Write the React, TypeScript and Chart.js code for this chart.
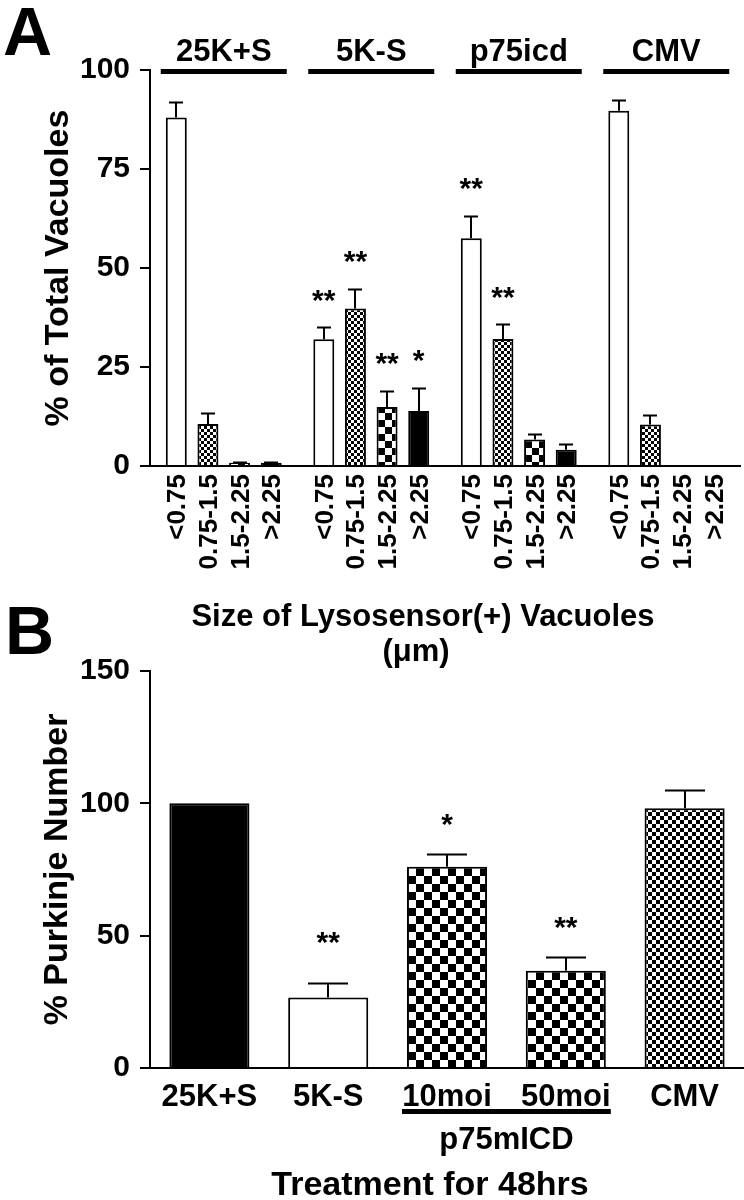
import React, { useEffect, useRef } from 'react';
import { Chart, registerables } from 'chart.js';
Chart.register(...registerables);

const FONT = '"Liberation Sans", Arial, Helvetica, sans-serif';

// ---------- Panel A data ----------
const groupsA = ['25K+S', '5K-S', 'p75icd', 'CMV'];
const sizeClasses = ['<0.75', '0.75-1.5', '1.5-2.25', '>2.25'];
const valsLt075 = [88, 32, 57.5, 89.7];
const errLt075 = [4, 3, 5.6, 2.6];
const vals075to15 = [10.6, 39.8, 32.1, 10.5];
const err075to15 = [2.8, 4.9, 3.7, 2.5];
const vals15to225 = [0.8, 14.9, 6.7, 0];
const err15to225 = [0.3, 4.1, 1.5, 0];
const valsGt225 = [0.8, 13.9, 4.1, 0];
const errGt225 = [0.3, 5.9, 1.4, 0];
const sigLt075 = ['', '**', '**', ''];
const sigLt075Y = [null, 43.7, 72, null];
const sig075to15 = ['', '**', '**', ''];
const sig075to15Y = [null, 53.6, 44.4, null];
const sig15to225 = ['', '**', '', ''];
const sig15to225Y = [null, 27.8, null, null];
const sigGt225 = ['', '*', '', ''];
const sigGt225Y = [null, 28.5, null, null];
const yTicksA = [0, 25, 50, 75, 100];
const yTitleA = '% of Total Vacuoles';
const xTitleA = ['Size of Lysosensor(+) Vacuoles', '(\u03BCm)'];

// ---------- Panel B data ----------
const treatmentsB = ['25K+S', '5K-S', '10moi', '50moi', 'CMV'];
const valsB = [100, 26.6, 76, 36.7, 98.1];
const errB = [0, 5.4, 4.9, 5.1, 6.9];
const sigB = ['', '**', '*', '**', ''];
const sigBY = [null, 50.3, 95, 56, null];
const yTicksB = [0, 50, 100, 150];
const yTitleB = '% Purkinje Number';
const bracketB = 'p75mICD';
const xTitleB = 'Treatment for 48hrs';

Chart.defaults.font.family = FONT;
Chart.defaults.color = '#000';

function checker(ctx: CanvasRenderingContext2D, size: number) {
  const c = document.createElement('canvas');
  c.width = size * 2;
  c.height = size * 2;
  const g = c.getContext('2d')!;
  g.fillStyle = '#fff';
  g.fillRect(0, 0, size * 2, size * 2);
  g.fillStyle = '#000';
  g.fillRect(0, 0, size, size);
  g.fillRect(size, size, size, size);
  return ctx.createPattern(c, 'repeat')!;
}

function errorPlugin(errs: number[][], capW: number) {
  return {
    id: 'errbars',
    afterDatasetsDraw(chart: any) {
      const ctx = chart.ctx;
      const y = chart.scales.y;
      ctx.save();
      ctx.strokeStyle = '#000';
      ctx.lineWidth = 2;
      chart.data.datasets.forEach((ds: any, di: number) => {
        const meta = chart.getDatasetMeta(di);
        meta.data.forEach((el: any, i: number) => {
          const e = errs[di][i];
          if (!e) return;
          const v = ds.data[i];
          const top = y.getPixelForValue(v);
          const cap = Math.round(y.getPixelForValue(v + e)) + 0.5;
          const x = Math.round(el.x);
          ctx.beginPath();
          ctx.moveTo(x, top);
          ctx.lineTo(x, cap);
          ctx.moveTo(x - capW / 2, cap);
          ctx.lineTo(x + capW / 2, cap);
          ctx.stroke();
        });
      });
      ctx.restore();
    },
  };
}

function starPlugin(sigs: string[][], ys: (number | null)[][]) {
  return {
    id: 'stars',
    afterDatasetsDraw(chart: any) {
      const ctx = chart.ctx;
      const y = chart.scales.y;
      ctx.save();
      ctx.fillStyle = '#000';
      ctx.font = `bold 30px ${FONT}`;
      ctx.textAlign = 'center';
      ctx.textBaseline = 'alphabetic';
      sigs.forEach((row, di) => {
        const meta = chart.getDatasetMeta(di);
        row.forEach((s, i) => {
          const yv = ys[di][i];
          if (!s || yv == null) return;
          const el = meta.data[i];
          ctx.fillText(s, el.x, y.getPixelForValue(yv) + 17);
        });
      });
      ctx.restore();
    },
  };
}

function buildA(canvas: HTMLCanvasElement) {
  const ctx = canvas.getContext('2d')!;
  const fine = checker(ctx, 3);
  const coarse = checker(ctx, 7);
  const fills = ['#fff', fine, coarse, '#000'];
  const vals = [valsLt075, vals075to15, vals15to225, valsGt225];
  const errs = [errLt075, err075to15, err15to225, errGt225];
  const sigs = [sigLt075, sig075to15, sig15to225, sigGt225];
  const sigYs = [sigLt075Y, sig075to15Y, sig15to225Y, sigGt225Y];

  const decor = {
    id: 'decorA',
    afterDraw(chart: any) {
      const c = chart.ctx;
      const x = chart.scales.x;
      c.save();
      c.fillStyle = '#000';
      c.strokeStyle = '#000';
      // panel letter
      c.font = `bold 68px ${FONT}`;
      c.textAlign = 'left';
      c.textBaseline = 'alphabetic';
      c.fillText('A', 3, 55);
      // group labels with bars
      c.font = `bold 31px ${FONT}`;
      c.textAlign = 'center';
      groupsA.forEach((g, i) => {
        const cx = x.getPixelForValue(i);
        c.fillText(g, cx, 61);
        c.lineWidth = 5;
        c.beginPath();
        c.moveTo(cx - 63, 71.5);
        c.lineTo(cx + 63, 71.5);
        c.stroke();
      });
      // rotated size-class labels
      c.font = `bold 26px ${FONT}`;
      sizeClasses.forEach((lab, di) => {
        const meta = chart.getDatasetMeta(di);
        meta.data.forEach((el: any) => {
          c.save();
          c.translate(el.x, chart.chartArea.bottom + 8);
          c.rotate(-Math.PI / 2);
          c.textAlign = 'right';
          c.textBaseline = 'alphabetic';
          c.fillText(lab, 0, 9);
          c.restore();
        });
      });
      // x title
      c.font = `bold 31px ${FONT}`;
      c.textAlign = 'center';
      c.fillText(xTitleA[0], 423, 626);
      c.fillText(xTitleA[1], 416, 661);
      c.restore();
    },
  };

  return new Chart(canvas, {
    type: 'bar',
    data: {
      labels: groupsA,
      datasets: sizeClasses.map((lab, di) => ({
        label: lab,
        data: vals[di],
        backgroundColor: fills[di] as any,
        borderColor: '#000',
        borderWidth: 2,
        categoryPercentage: 0.858,
        barPercentage: 0.663,
      })),
    },
    options: {
      responsive: false,
      animation: false,
      devicePixelRatio: 1,
      layout: { padding: { top: 70, right: 4, left: 0, bottom: 0 } },
      plugins: { legend: { display: false }, tooltip: { enabled: false } },
      scales: {
        x: {
          type: 'category',
          ticks: { display: false },
          grid: { display: false },
          border: { display: true, color: '#000', width: 2 },
          afterFit: (s: any) => { s.height = 214; },
        },
        y: {
          min: 0,
          max: 100,
          afterBuildTicks: (s: any) => { s.ticks = yTicksA.map((v) => ({ value: v })); },
          ticks: { font: { size: 30, weight: 'bold' }, color: '#000', padding: 10 },
          grid: { drawOnChartArea: false, drawTicks: true, tickLength: 10, color: '#000', lineWidth: 2 },
          border: { display: true, color: '#000', width: 2 },
          title: {
            display: true,
            text: yTitleA,
            color: '#000',
            font: { size: 34, weight: 'bold' },
            padding: { top: 38, bottom: 0 },
          },
          afterFit: (s: any) => { s.width = 150; },
        },
      },
    } as any,
    plugins: [errorPlugin(errs, 14), starPlugin(sigs, sigYs), decor],
  });
}

function buildB(canvas: HTMLCanvasElement) {
  const ctx = canvas.getContext('2d')!;
  const coarse = checker(ctx, 8);
  const fine = checker(ctx, 4);
  const fills = ['#000', '#fff', coarse, coarse, fine];

  const decor = {
    id: 'decorB',
    afterDraw(chart: any) {
      const c = chart.ctx;
      c.save();
      c.fillStyle = '#000';
      c.strokeStyle = '#000';
      c.font = `bold 68px ${FONT}`;
      c.textAlign = 'left';
      c.textBaseline = 'alphabetic';
      c.fillText('B', 5, 74);
      const meta = chart.getDatasetMeta(0);
      const e2 = meta.data[2];
      const e3 = meta.data[3];
      const l = e2.x - e2.width / 2 - 5;
      const r = e3.x + e3.width / 2 + 5;
      c.lineWidth = 5;
      c.beginPath();
      c.moveTo(l, 531.5);
      c.lineTo(r, 531.5);
      c.stroke();
      c.font = `bold 31px ${FONT}`;
      c.textAlign = 'center';
      c.fillText(bracketB, (l + r) / 2, 569);
      c.font = `bold 34px ${FONT}`;
      c.fillText(xTitleB, 430, 615);
      c.restore();
    },
  };

  return new Chart(canvas, {
    type: 'bar',
    data: {
      labels: treatmentsB,
      datasets: [
        {
          label: 'Purkinje',
          data: valsB,
          backgroundColor: fills as any,
          borderColor: '#000',
          borderWidth: 2,
          categoryPercentage: 1,
          barPercentage: 0.674,
        },
      ],
    },
    options: {
      responsive: false,
      animation: false,
      devicePixelRatio: 1,
      layout: { padding: { top: 91, right: 0, left: 0, bottom: 0 } },
      plugins: { legend: { display: false }, tooltip: { enabled: false } },
      scales: {
        x: {
          type: 'category',
          ticks: { font: { size: 31, weight: 'bold' }, color: '#000', padding: 3, maxRotation: 0, autoSkip: false },
          grid: { display: false },
          border: { display: true, color: '#000', width: 2 },
          afterFit: (s: any) => { s.height = 132; },
        },
        y: {
          min: 0,
          max: 150,
          afterBuildTicks: (s: any) => { s.ticks = yTicksB.map((v) => ({ value: v })); },
          ticks: { font: { size: 30, weight: 'bold' }, color: '#000', padding: 10 },
          grid: { drawOnChartArea: false, drawTicks: true, tickLength: 10, color: '#000', lineWidth: 2 },
          border: { display: true, color: '#000', width: 2 },
          title: {
            display: true,
            text: yTitleB,
            color: '#000',
            font: { size: 34, weight: 'bold' },
            padding: { top: 37, bottom: 0 },
          },
          afterFit: (s: any) => { s.width = 150; },
        },
      },
    } as any,
    plugins: [errorPlugin([errB], 40), starPlugin([sigB], [sigBY]), decor],
  });
}

export default function App() {
  const refA = useRef<HTMLCanvasElement>(null);
  const refB = useRef<HTMLCanvasElement>(null);
  useEffect(() => {
    const a = buildA(refA.current!);
    const b = buildB(refB.current!);
    return () => {
      a.destroy();
      b.destroy();
    };
  }, []);
  return (
    <div style={{ position: 'absolute', left: 0, top: 0, width: 744, height: 1200, background: '#fff' }}>
      <canvas ref={refA} width={744} height={680} style={{ position: 'absolute', left: 0, top: 0, width: 744, height: 680 }} />
      <canvas ref={refB} width={744} height={620} style={{ position: 'absolute', left: 0, top: 580, width: 744, height: 620 }} />
    </div>
  );
}
